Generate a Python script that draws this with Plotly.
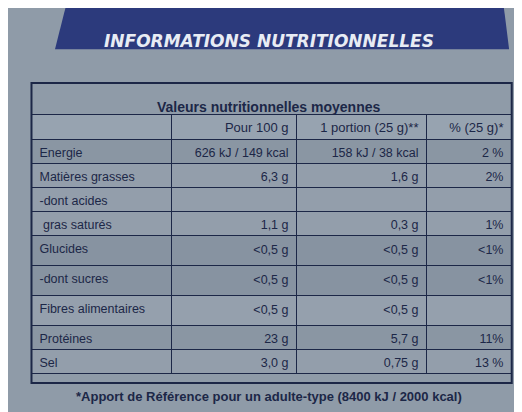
# Étiquette nutritionnelle recréée avec un tableau Plotly
import plotly.graph_objs as go

# Données de l'étiquette
en_tetes = ["", "Pour 100 g", "1 portion (25 g)**", "% (25 g)*"]
nutriments = ["Energie", "Matières grasses", "-dont acides", " gras saturés",
              "Glucides", "-dont sucres", "Fibres alimentaires", "Protéines", "Sel"]
pour_100g = ["626 kJ / 149 kcal", "6,3 g", "", "1,1 g",
             "&lt;0,5 g", "&lt;0,5 g", "&lt;0,5 g", "23 g", "3,0 g"]
portion = ["158 kJ / 38 kcal", "1,6 g", "", "0,3 g",
           "&lt;0,5 g", "&lt;0,5 g", "&lt;0,5 g", "5,7 g", "0,75 g"]
pourcent = ["2 %", "2%", "", "1%", "&lt;1%", "&lt;1%", "", "11%", "13 %"]

encre = "#1c2747"
fond = "#8f9ba8"
police = "Liberation Sans"

fig = go.Figure()

fig.add_trace(go.Table(
    domain=dict(x=[0.045, 0.965], y=[0.09, 0.742]),
    columnwidth=[140, 125, 130, 85],
    header=dict(values=en_tetes, align=["left", "right", "right", "right"],
                fill_color="#97a3b0", line_color=encre, height=25,
                font=dict(family=police, size=13, color=encre)),
    cells=dict(values=[nutriments, pour_100g, portion, pourcent],
               align=["left", "right", "right", "right"],
               fill_color=[["#8a96a3", "#939eab", "#939eab", "#939eab",
                            "#8793a1", "#8793a1", "#95a0ad", "#8a96a3", "#939eab"]],
               line_color=encre, height=24,
               font=dict(family=police, size=12.5, color=encre)),
))

# Bandeau du titre
fig.add_shape(type="path", xref="paper", yref="paper",
              path="M 0.09 0.90 L 0.96 0.90 L 0.95 1.0 L 0.11 1.0 Z",
              fillcolor="#2c3a7c", line_width=0)
fig.add_annotation(x=0.5, y=0.95, xref="paper", yref="paper", showarrow=False,
                   text="<b><i>INFORMATIONS NUTRITIONNELLES</i></b>",
                   font=dict(family="DejaVu Sans", size=17, color="#e8ecf4"))

# Cadre et titre du tableau
fig.add_shape(type="rect", xref="paper", yref="paper", x0=0.045, x1=0.965,
              y0=0.09, y1=0.818, line=dict(color=encre, width=2), fillcolor="rgba(0,0,0,0)")
fig.add_annotation(x=0.5, y=0.783, xref="paper", yref="paper", showarrow=False,
                   text="<b>Valeurs nutritionnelles moyennes</b>",
                   font=dict(family=police, size=14, color=encre))
fig.add_annotation(x=0.5, y=0.035, xref="paper", yref="paper", showarrow=False,
                   text="<b>*Apport de Référence pour un adulte-type (8400 kJ / 2000 kcal)</b>",
                   font=dict(family=police, size=13, color=encre))

fig.update_layout(width=522, height=412, margin=dict(l=0, r=0, t=0, b=0),
                  paper_bgcolor=fond, plot_bgcolor=fond)

fig.write_html("out.html")
